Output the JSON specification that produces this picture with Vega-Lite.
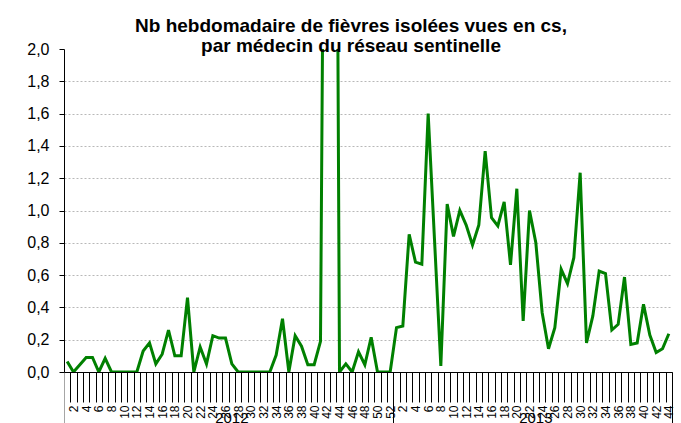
{
  "$schema": "https://vega.github.io/schema/vega-lite/v6.json",
  "width": 608,
  "height": 323,
  "autosize": {"type": "none"},
  "padding": {"left": 64, "top": 49, "right": 9, "bottom": 51},
  "background": "white",
  "config": {"view": {"stroke": null}},
  "title": {
    "text": ["Nb hebdomadaire de fièvres isolées vues en cs,", "par médecin du réseau sentinelle"],
    "font": "Liberation Sans",
    "fontSize": 19,
    "fontWeight": "bold",
    "color": "black",
    "anchor": "middle",
    "frame": "group",
    "offset": -15,
    "lineHeight": 20,
    "dx": -17
  },
  "data": {
    "values": [
      {"semaine": "2012-01", "valeur": 0.065},
      {"semaine": "2012-02", "valeur": 0.0},
      {"semaine": "2012-03", "valeur": 0.045},
      {"semaine": "2012-04", "valeur": 0.09},
      {"semaine": "2012-05", "valeur": 0.09},
      {"semaine": "2012-06", "valeur": 0.0},
      {"semaine": "2012-07", "valeur": 0.085},
      {"semaine": "2012-08", "valeur": 0.0},
      {"semaine": "2012-09", "valeur": 0.0},
      {"semaine": "2012-10", "valeur": 0.0},
      {"semaine": "2012-11", "valeur": 0.0},
      {"semaine": "2012-12", "valeur": 0.0},
      {"semaine": "2012-13", "valeur": 0.13},
      {"semaine": "2012-14", "valeur": 0.18},
      {"semaine": "2012-15", "valeur": 0.05},
      {"semaine": "2012-16", "valeur": 0.11},
      {"semaine": "2012-17", "valeur": 0.26},
      {"semaine": "2012-18", "valeur": 0.1},
      {"semaine": "2012-19", "valeur": 0.1},
      {"semaine": "2012-20", "valeur": 0.46},
      {"semaine": "2012-21", "valeur": 0.0},
      {"semaine": "2012-22", "valeur": 0.155},
      {"semaine": "2012-23", "valeur": 0.05},
      {"semaine": "2012-24", "valeur": 0.225},
      {"semaine": "2012-25", "valeur": 0.21},
      {"semaine": "2012-26", "valeur": 0.21},
      {"semaine": "2012-27", "valeur": 0.05},
      {"semaine": "2012-28", "valeur": 0.0},
      {"semaine": "2012-29", "valeur": 0.0},
      {"semaine": "2012-30", "valeur": 0.0},
      {"semaine": "2012-31", "valeur": 0.0},
      {"semaine": "2012-32", "valeur": 0.0},
      {"semaine": "2012-33", "valeur": 0.0},
      {"semaine": "2012-34", "valeur": 0.105},
      {"semaine": "2012-35", "valeur": 0.33},
      {"semaine": "2012-36", "valeur": 0.0},
      {"semaine": "2012-37", "valeur": 0.225},
      {"semaine": "2012-38", "valeur": 0.16},
      {"semaine": "2012-39", "valeur": 0.045},
      {"semaine": "2012-40", "valeur": 0.045},
      {"semaine": "2012-41", "valeur": 0.19},
      {"semaine": "2012-42", "valeur": 6.0},
      {"semaine": "2012-43", "valeur": 8.0},
      {"semaine": "2012-44", "valeur": 0.0},
      {"semaine": "2012-45", "valeur": 0.05},
      {"semaine": "2012-46", "valeur": 0.0},
      {"semaine": "2012-47", "valeur": 0.125},
      {"semaine": "2012-48", "valeur": 0.045},
      {"semaine": "2012-49", "valeur": 0.215},
      {"semaine": "2012-50", "valeur": 0.0},
      {"semaine": "2012-51", "valeur": 0.0},
      {"semaine": "2012-52", "valeur": 0.0},
      {"semaine": "2013-01", "valeur": 0.275},
      {"semaine": "2013-02", "valeur": 0.285},
      {"semaine": "2013-03", "valeur": 0.853},
      {"semaine": "2013-04", "valeur": 0.68},
      {"semaine": "2013-05", "valeur": 0.667},
      {"semaine": "2013-06", "valeur": 1.6},
      {"semaine": "2013-07", "valeur": 0.82},
      {"semaine": "2013-08", "valeur": 0.037},
      {"semaine": "2013-09", "valeur": 1.04},
      {"semaine": "2013-10", "valeur": 0.84},
      {"semaine": "2013-11", "valeur": 1.0},
      {"semaine": "2013-12", "valeur": 0.91},
      {"semaine": "2013-13", "valeur": 0.786},
      {"semaine": "2013-14", "valeur": 0.91},
      {"semaine": "2013-15", "valeur": 1.368},
      {"semaine": "2013-16", "valeur": 0.955},
      {"semaine": "2013-17", "valeur": 0.904},
      {"semaine": "2013-18", "valeur": 1.054},
      {"semaine": "2013-19", "valeur": 0.663},
      {"semaine": "2013-20", "valeur": 1.135},
      {"semaine": "2013-21", "valeur": 0.316},
      {"semaine": "2013-22", "valeur": 1.0},
      {"semaine": "2013-23", "valeur": 0.8},
      {"semaine": "2013-24", "valeur": 0.367},
      {"semaine": "2013-25", "valeur": 0.144},
      {"semaine": "2013-26", "valeur": 0.274},
      {"semaine": "2013-27", "valeur": 0.636},
      {"semaine": "2013-28", "valeur": 0.547},
      {"semaine": "2013-29", "valeur": 0.708},
      {"semaine": "2013-30", "valeur": 1.234},
      {"semaine": "2013-31", "valeur": 0.18},
      {"semaine": "2013-32", "valeur": 0.347},
      {"semaine": "2013-33", "valeur": 0.625},
      {"semaine": "2013-34", "valeur": 0.609},
      {"semaine": "2013-35", "valeur": 0.26},
      {"semaine": "2013-36", "valeur": 0.295},
      {"semaine": "2013-37", "valeur": 0.588},
      {"semaine": "2013-38", "valeur": 0.171},
      {"semaine": "2013-39", "valeur": 0.18},
      {"semaine": "2013-40", "valeur": 0.419},
      {"semaine": "2013-41", "valeur": 0.229},
      {"semaine": "2013-42", "valeur": 0.12},
      {"semaine": "2013-43", "valeur": 0.144},
      {"semaine": "2013-44", "valeur": 0.237}
    ]
  },
  "layer": [
    {
      "mark": {"type": "line", "color": "#008000", "strokeWidth": 3, "clip": true},
      "encoding": {
        "x": {
          "field": "semaine",
          "type": "ordinal",
          "scale": {"paddingInner": 0, "paddingOuter": 0},
          "axis": {
            "orient": "bottom",
            "title": null,
            "labelAngle": -90,
            "labelAlign": "right",
            "labelBaseline": "middle",
            "labelExpr": "isString(datum.value) && toNumber(substring(datum.value, 5, 7)) % 2 == 0 ? '' + toNumber(substring(datum.value, 5, 7)) : ''",
            "labelFont": "Liberation Sans",
            "labelFontSize": 12,
            "labelColor": "black",
            "labelPadding": 3,
            "labelOverlap": false,
            "tickBand": "extent",
            "tickSize": 30,
            "tickColor": "black",
            "tickWidth": 1,
            "domainColor": "black",
            "domainWidth": 1,
            "grid": false
          }
        },
        "y": {
          "field": "valeur",
          "type": "quantitative",
          "scale": {"domain": [0, 2], "nice": false},
          "axis": {
            "orient": "left",
            "title": null,
            "values": [0, 0.2, 0.4, 0.6, 0.8, 1, 1.2, 1.4, 1.6, 1.8, 2],
            "labelExpr": "replace(format(datum.value, '.1f'), '.', ',')",
            "labelFont": "Liberation Sans",
            "labelFontSize": 16,
            "labelColor": "black",
            "labelPadding": 10,
            "tickSize": 5,
            "tickColor": "black",
            "domainColor": "black",
            "grid": true,
            "gridColor": "#b8b8b8",
            "gridDash": [2, 2],
            "gridOpacity": {"condition": {"test": "datum.value == 0 || datum.value == 2", "value": 0}, "value": 1}
          }
        }
      }
    },
    {
      "mark": {"type": "line", "opacity": 0, "clip": true},
      "encoding": {
        "x": {
          "field": "semaine",
          "type": "ordinal",
          "axis": {
            "orient": "bottom",
            "title": null,
            "values": ["2012-01", "2012-27", "2013-01", "2013-23"],
            "bandPosition": 0,
            "labelAngle": 0,
            "labelAlign": "center",
            "labelBaseline": "top",
            "labelExpr": "datum.value == '2012-27' || datum.value == '2013-23' ? substring('' + datum.value, 0, 4) : ''",
            "labelFont": "Liberation Sans",
            "labelFontSize": 15,
            "labelColor": "black",
            "labelPadding": -17,
            "labelOverlap": false,
            "tickSize": 55,
            "tickColor": {"condition": {"test": "datum.value == '2012-01'", "value": "#a6a6a6"}, "value": "black"},
            "tickOpacity": {"condition": {"test": "datum.value == '2012-01' || datum.value == '2013-01'", "value": 1}, "value": 0},
            "domain": false,
            "grid": false
          }
        },
        "y": {"field": "valeur", "type": "quantitative", "axis": null}
      }
    },
    {
      "mark": {"type": "line", "opacity": 0, "clip": true},
      "encoding": {
        "x": {
          "field": "semaine",
          "type": "ordinal",
          "axis": {
            "orient": "bottom",
            "title": null,
            "values": ["2013-44"],
            "bandPosition": 1,
            "labels": false,
            "tickSize": 55,
            "tickColor": "black",
            "domain": false,
            "grid": false
          }
        },
        "y": {"field": "valeur", "type": "quantitative", "axis": null}
      }
    }
  ],
  "resolve": {"axis": {"x": "independent", "y": "independent"}}
}
